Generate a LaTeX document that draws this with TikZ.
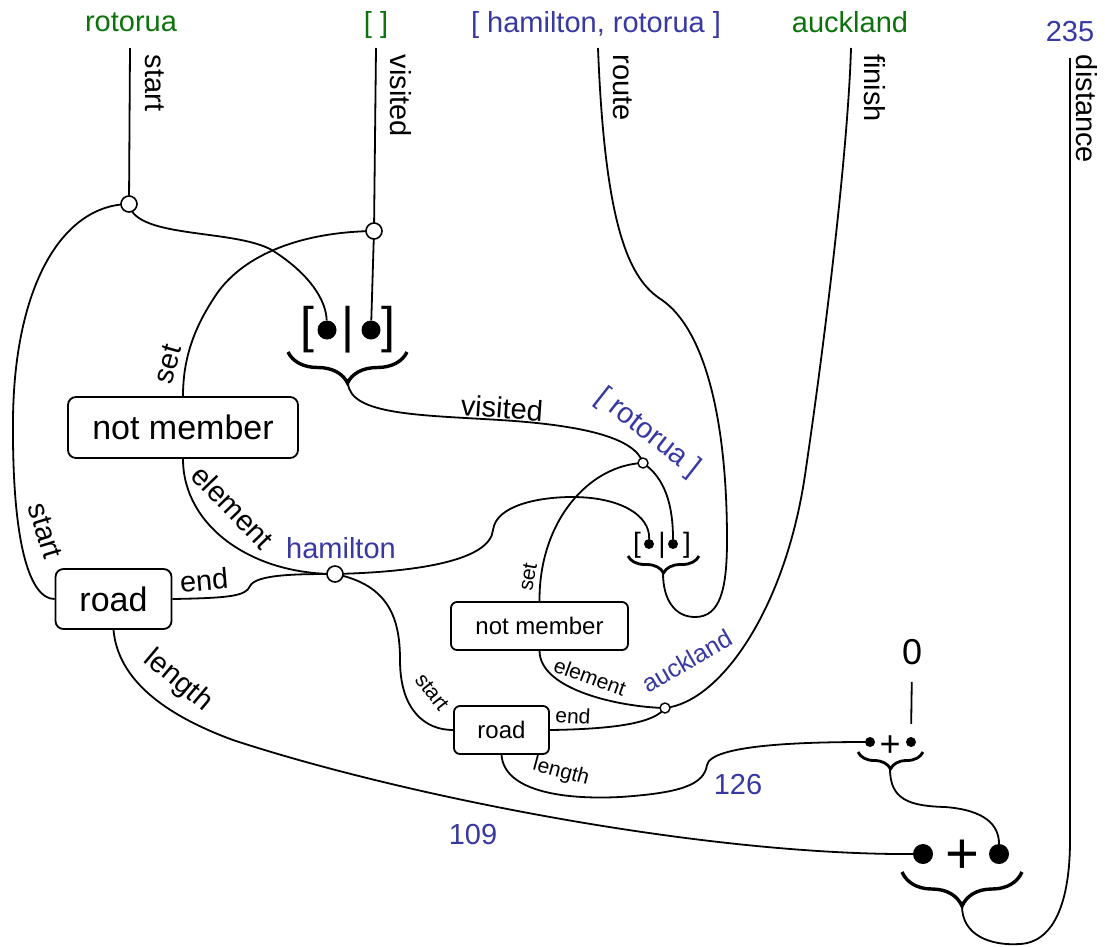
\documentclass[tikz,border=0pt]{standalone}
\usepackage{fontspec}
\setmainfont{Liberation Sans}
\usetikzlibrary{decorations.pathreplacing}
\definecolor{vgreen}{RGB}{12,115,12}
\definecolor{vblue}{RGB}{56,56,162}
\begin{document}
\begin{tikzpicture}[x=1pt,y=-1pt,
  wire/.style={line width=1.8pt, black},
  lab/.style={font=\fontsize{29}{34}\selectfont, inner sep=0pt},
  slab/.style={font=\fontsize{21}{25}\selectfont, inner sep=0pt},
  bigbox/.style={draw, line width=1.8pt, rounded corners=8pt, inner sep=0pt, font=\fontsize{34}{40}\selectfont},
  smallbox/.style={draw, line width=1.8pt, rounded corners=6pt, inner sep=0pt, font=\fontsize{24}{28}\selectfont},
  junc/.style={circle, draw, fill=white, line width=1.6pt, inner sep=0pt, minimum size=16pt},
  sjunc/.style={circle, draw, fill=white, line width=1.4pt, inner sep=0pt, minimum size=10pt},
  bigdot/.style={circle, fill=black, inner sep=0pt, minimum size=19pt},
  smalldot/.style={circle, fill=black, inner sep=0pt, minimum size=10pt},
  bigglyph/.style={font=\fontsize{50}{55}\selectfont, inner sep=0pt},
  smallglyph/.style={font=\fontsize{28}{30}\selectfont, inner sep=0pt},
  bigbrace/.style={decorate, decoration={brace, mirror, amplitude=#1}, line width=3.4pt},
  smallbrace/.style={decorate, decoration={brace, mirror, amplitude=#1}, line width=2.8pt}
]
\useasboundingbox (0,0) rectangle (1105,946);

% top values
\node[lab, vgreen] (vStart) at (131,22) {rotorua};
\node[lab, vgreen] (vVisited) at (376,25) {[ ]};
\node[lab, vblue] (vRoute) at (596,25) {[ hamilton, rotorua ]};
\node[lab, vgreen] (vFinish) at (850,22) {auckland};
\node[lab, vblue] (vDist) at (1070,32) {235};

% port labels
\node[lab, rotate=-90] (lStart) at (155,83) {start};
\node[lab, rotate=-90] (lVisited) at (401,96) {visited};
\node[lab, rotate=-90] (lRoute) at (623,88) {route};
\node[lab, rotate=-90] (lFinish) at (875,88) {finish};
\node[lab, rotate=-90] (lDist) at (1087,109) {distance};

\coordinate (pStart) at (130,48);
\coordinate (pVisited) at (376,48);
\coordinate (pRoute) at (598,48);
\coordinate (pFinish) at (851,48);
\coordinate (pDist) at (1070,58);

% boxes
\node[bigbox, minimum width=230pt, minimum height=61pt] (nm) at (183,427.5) {not member};
\node[bigbox, minimum width=116pt, minimum height=60pt] (road) at (113.5,599) {road};
\node[smallbox, minimum width=177pt, minimum height=48pt] (snm) at (539.5,626) {not member};
\node[smallbox, minimum width=95pt, minimum height=48pt] (sroad) at (501.5,730) {road};

% big cons
\node[bigglyph] (bcL) at (307,330) {[};
\node[bigglyph] (bcM) at (348,330) {|};
\node[bigglyph] (bcR) at (388,330) {]};
\node[bigdot] (bcA) at (327,330) {};
\node[bigdot] (bcB) at (371,330) {};
\draw[bigbrace=31pt] (288,352) -- (407,352);
\coordinate (bcT) at (348,383);

% small cons
\node[smallglyph] (scL) at (637,545) {[};
\node[smallglyph] (scM) at (662,545) {|};
\node[smallglyph] (scR) at (687,545) {]};
\node[smalldot] (scA) at (649,544) {};
\node[smalldot] (scB) at (673,544) {};
\draw[smallbrace=17pt] (628,556) -- (699,556);
\coordinate (scT) at (663,573);

% small plus
\node[font=\fontsize{36}{40}\selectfont, inner sep=0pt] (zero) at (912,652) {0};
\node[smalldot] (spA) at (870,742) {};
\node[smalldot] (spB) at (911,742) {};
\node[font=\fontsize{36}{40}\selectfont, inner sep=0pt] (spP) at (890,746) {+};
\draw[smallbrace=17pt] (858,752) -- (923,752);
\coordinate (spT) at (890,769);

% big plus
\node[bigdot, minimum size=20pt] (bpA) at (923,854) {};
\node[bigdot, minimum size=20pt] (bpB) at (999,854) {};
\node[font=\fontsize{58}{62}\selectfont, inner sep=0pt] (bpP) at (962,857) {+};
\draw[bigbrace=34pt] (902,872) -- (1022,872);
\coordinate (bpT) at (962,906);

% junction circles (positions)
\coordinate (jStartC) at (129,204);
\coordinate (jVisitedC) at (374,231);
\coordinate (jHamC) at (335,574);
\coordinate (jRotC) at (643,463);
\coordinate (jAukC) at (665,708);

% wires
\draw[wire] (pStart) -- (jStartC);
\draw[wire] (jStartC) .. controls (60,205) and (14,290) .. (13,420) .. controls (12,545) and (30,599) .. (road.west);
\draw[wire] (jStartC) .. controls (135,240) and (240,228) .. (275,252) .. controls (310,275) and (326,300) .. (bcA);
\draw[wire] (pVisited) -- (jVisitedC);
\draw[wire] (jVisitedC) -- (bcB);
\draw[wire] (jVisitedC) .. controls (300,232) and (245,255) .. (218,292) .. controls (193,328) and (183,360) .. (nm.north);
\draw[wire] (bcT) .. controls (350,415) and (420,415) .. (500,420) .. controls (580,425) and (635,437) .. (jRotC);
\draw[wire] (jRotC) .. controls (665,478) and (673,505) .. (scB);
\draw[wire] (jRotC) .. controls (590,465) and (539,520) .. (snm.north);
\draw[wire] (nm.south) .. controls (183,525) and (250,574) .. (jHamC);
\draw[wire] (road.east) .. controls (230,598) and (246,596) .. (250,586) .. controls (256,574) and (300,574) .. (jHamC);
\draw[wire] (jHamC) .. controls (420,572) and (490,560) .. (493,530) .. controls (496,505) and (540,497) .. (572,497) .. controls (620,497) and (650,515) .. (scA);
\draw[wire] (jHamC) .. controls (390,585) and (400,620) .. (400,660) .. controls (400,710) and (425,730) .. (sroad.west);
\draw[wire] (snm.south) .. controls (540,690) and (620,707) .. (jAukC);
\draw[wire] (sroad.east) .. controls (620,729) and (655,722) .. (jAukC);
\draw[wire] (jAukC) .. controls (720,702) and (785,610) .. (805,475) .. controls (825,340) and (848,150) .. (pFinish);
\draw[wire] (scT) .. controls (663,600) and (675,617) .. (695,617) .. controls (720,617) and (727,590) .. (727,540) .. controls (727,420) and (705,330) .. (662,300) .. controls (630,280) and (605,230) .. (pRoute);
\draw[wire] (sroad.south) .. controls (504,790) and (560,800) .. (620,797) .. controls (680,793) and (704,785) .. (707,765) .. controls (711,745) and (800,742) .. (spA);
\draw[wire] (road.south) .. controls (118,680) and (165,715) .. (233,740) .. controls (400,795) and (700,855) .. (bpA);
\draw[wire, shorten <=17pt, shorten >=13pt] (zero.south) -- (spB.north);
\draw[wire] (spT) .. controls (890,800) and (910,806) .. (945,807) .. controls (985,810) and (999,825) .. (bpB);
\draw[wire] (bpT) .. controls (962,935) and (990,946) .. (1020,944) .. controls (1055,942) and (1070,900) .. (1070,840) -- (pDist);

% junctions drawn over wires
\node[junc] (jStart) at (jStartC) {};
\node[junc] (jVisited) at (jVisitedC) {};
\node[junc] (jHam) at (jHamC) {};
\node[sjunc] (jRot) at (jRotC) {};
\node[sjunc] (jAuk) at (jAukC) {};

% wire labels
\node[lab, rotate=74] (lSet) at (168,364) {set};
\node[lab, rotate=-46] (lElem) at (233,507) {element};
\node[lab, rotate=-73] (lRStart) at (45,531) {start};
\node[lab, rotate=5] (lEnd) at (204,580) {end};
\node[lab, rotate=-40] (lLen) at (178,681) {length};
\node[lab, vblue] (lHam) at (341,548) {hamilton};
\node[lab, rotate=-4] (lVis2) at (502,408) {visited};
\node[lab, vblue, rotate=-38] (lRot) at (648,433) {[ rotorua ]};
\node[slab, rotate=80] (lSSet) at (528,577) {set};
\node[slab, rotate=-20] (lSElem) at (590,677) {element};
\node[slab, rotate=-52] (lSStart) at (432,692) {start};
\node[slab, rotate=-3] (lSEnd) at (573,716) {end};
\node[slab, rotate=-15] (lSLen) at (561,772) {length};
\node[font=\fontsize{25}{30}\selectfont, inner sep=0pt, vblue, rotate=30] (lAuk) at (687,661) {auckland};
\node[lab, vblue] (l126) at (738,785) {126};
\node[lab, vblue] (l109) at (473,835) {109};
\end{tikzpicture}
\end{document}
